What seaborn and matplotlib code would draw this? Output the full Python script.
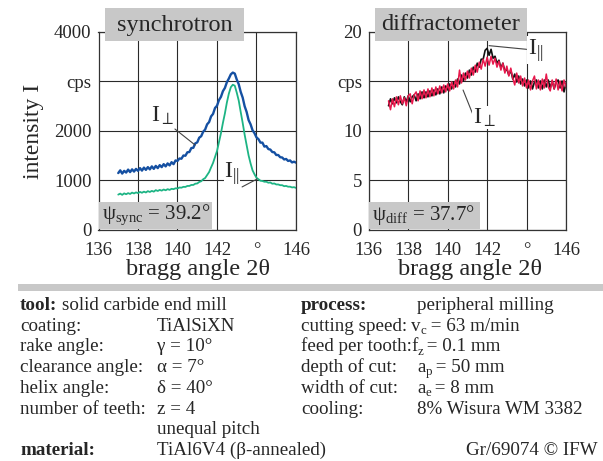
import numpy as np
import pandas as pd
import matplotlib
matplotlib.use("Agg")
import matplotlib.pyplot as plt
import seaborn as sns
from matplotlib.patches import Rectangle

# ---------------- data ----------------
x_ticks = [136, 138, 140, 142, 144, 146]
x_tick_labels = ["136", "138", "140", "142", "°", "146"]
sync_yticks = [0, 1000, 2000, 3000, 4000]
sync_ytick_labels = ["0", "1000", "2000", "cps", "4000"]
diff_yticks = [0, 5, 10, 15, 20]
diff_ytick_labels = ["0", "5", "10", "cps", "20"]

# synchrotron, I_perp (blue), 137.0 .. 146.0 step 0.1
sync_perp = [1140, 1195, 1130, 1185, 1150, 1210, 1160, 1215, 1170, 1225,
             1185, 1240, 1190, 1250, 1205, 1260, 1215, 1275, 1225, 1285,
             1240, 1300, 1260, 1320, 1275, 1335, 1295, 1360, 1320, 1395,
             1385, 1435, 1430, 1495, 1490, 1560, 1565, 1645, 1650, 1740,
             1760, 1855, 1885, 1975, 2020, 2125, 2170, 2285, 2335, 2455,
             2500, 2615, 2680, 2795, 2860, 2975, 3050, 3135, 3170, 3150,
             3030, 2935, 2780, 2665, 2490, 2375, 2210, 2125, 2005, 1945,
             1860, 1825, 1755, 1755, 1675, 1685, 1625, 1615, 1565, 1560,
             1505, 1505, 1460, 1455, 1415, 1425, 1385, 1395, 1355, 1370,
             1350]
# synchrotron, I_parallel (green)
sync_par = [705, 725, 700, 730, 712, 735, 718, 745, 728, 750,
            735, 760, 742, 765, 748, 775, 758, 780, 765, 795,
            778, 800, 785, 808, 792, 815, 800, 822, 815, 832,
            830, 848, 845, 862, 860, 880, 880, 900, 900, 925,
            930, 960, 975, 1015, 1040, 1100, 1160, 1255, 1345, 1465,
            1585, 1765, 1945, 2155, 2345, 2565, 2745, 2875, 2925, 2905,
            2765, 2605, 2375, 2155, 1915, 1705, 1495, 1335, 1195, 1115,
            1045, 1015, 985, 980, 965, 965, 945, 950, 925, 930,
            910, 910, 895, 895, 875, 880, 865, 865, 850, 855,
            840]
# diffractometer, I_parallel (black)
diff_par = [12.5, 13.2, 12.7, 13.3, 12.8, 13.4, 12.9, 12.6, 13.4, 12.9,
            13.5, 12.9, 13.4, 13.6, 13.0, 13.7, 13.2, 13.9, 13.3, 13.9,
            13.4, 14.0, 13.5, 14.1, 13.6, 14.2, 13.7, 14.4, 13.8, 14.5,
            14.1, 14.7, 14.2, 14.9, 14.4, 15.2, 14.7, 15.6, 15.0, 15.8,
            15.3, 16.1, 15.6, 16.4, 15.9, 16.8, 16.4, 17.2, 17.2, 18.1,
            18.3, 17.6, 18.2, 17.3, 17.5, 16.8, 17.1, 16.3, 16.8, 16.0,
            16.2, 15.6, 16.1, 15.2, 15.7, 14.9, 15.5, 14.7, 15.2, 14.5,
            15.1, 14.3, 15.0, 14.2, 14.9, 15.1, 14.3, 15.0, 14.2, 15.1,
            14.4, 15.1, 14.3, 15.0, 14.2, 14.9, 15.1, 14.3, 15.0, 13.9,
            14.8]
# diffractometer, I_perp (red)
diff_perp = [13.0, 12.1, 13.2, 12.4, 13.4, 12.6, 13.5, 12.7, 13.3, 12.5,
             13.5, 13.7, 12.7, 13.6, 13.9, 13.0, 14.0, 13.2, 14.1, 13.3,
             14.2, 13.4, 14.3, 13.5, 14.4, 13.7, 14.5, 13.8, 14.6, 13.9,
             14.7, 14.0, 14.9, 14.2, 15.1, 14.4, 16.1, 14.8, 15.8, 15.1,
             16.0, 15.3, 16.3, 15.6, 16.6, 15.9, 16.9, 16.2, 17.2, 16.5,
             17.4, 16.6, 17.5, 16.7, 17.3, 16.4, 17.0, 16.1, 16.8, 15.8,
             16.5, 15.5, 16.3, 15.3, 14.6, 15.8, 14.8, 15.5, 14.5, 15.3,
             14.3, 15.1, 14.1, 15.0, 15.5, 14.2, 15.1, 14.1, 15.2, 14.3,
             15.7, 14.4, 14.0, 15.1, 14.2, 15.2, 14.1, 15.0, 14.0, 15.1,
             14.4]

x_start, x_end = 137.0, 146.0

# ---------------- style ----------------
sns.set_style("white")
plt.rcParams["font.family"] = ["Liberation Serif", "DejaVu Serif"]
plt.rcParams["mathtext.fontset"] = "custom"
plt.rcParams["mathtext.rm"] = "Liberation Serif"
plt.rcParams["mathtext.it"] = "Liberation Serif:italic"
plt.rcParams["mathtext.bf"] = "Liberation Serif:bold"

W, H = 603, 461
fig = plt.figure(figsize=(W / 100, H / 100), dpi=100)
fig.patch.set_facecolor("white")
renderer = fig.canvas.get_renderer()


def fx(px):
    return px / W


def fy(py):
    return 1 - py / H


GRAY = "#c8c8c8"
axL = fig.add_axes([fx(98.5), fy(229.5), (296 - 98.5) / W, 198 / H])
axR = fig.add_axes([fx(368.8), fy(229.5), (566 - 368.8) / W, 198 / H])


def frame(vals, name):
    return pd.DataFrame({"angle": np.linspace(x_start, x_end, len(vals)),
                         "I": vals, "series": name})


dL1 = frame(sync_perp, "perp")
dL2 = frame(sync_par, "par")
dR1 = frame(diff_par, "par")
dR2 = frame(diff_perp, "perp")

sns.lineplot(data=dL1, x="angle", y="I", ax=axL, color="#1550a2", lw=1.7)
sns.lineplot(data=dL2, x="angle", y="I", ax=axL, color="#1db484", lw=1.3)
sns.lineplot(data=dR1, x="angle", y="I", ax=axR, color="#111111", lw=1.2)
sns.lineplot(data=dR2, x="angle", y="I", ax=axR, color="#e8184c", lw=1.1)

for ax, yt, ytl, ylim in [(axL, sync_yticks, sync_ytick_labels, 4000),
                          (axR, diff_yticks, diff_ytick_labels, 20)]:
    ax.set_xlim(136, 146)
    ax.set_ylim(0, ylim)
    ax.set_xticks(x_ticks)
    ax.set_xticklabels(x_tick_labels)
    ax.set_yticks(yt)
    ax.set_yticklabels(ytl)
    ax.set_xlabel("")
    ax.set_ylabel("")
    ax.grid(True, color="#2a2a2a", linewidth=0.8)
    ax.set_axisbelow(True)
    for s in ax.spines.values():
        s.set_color("#333333")
        s.set_linewidth(0.9)
    ax.tick_params(axis="x", length=0, pad=9, labelsize=13.5)
    ax.tick_params(axis="y", length=3.5, width=0.8, color="#333333",
                   direction="out", pad=1.5, labelsize=13.5)
    ax.set_facecolor("white")

# leader lines and labels
lbl = dict(fontsize=17, bbox=dict(facecolor="white", edgecolor="none", pad=0.3),
           zorder=6)
axL.plot([139.87, 140.89], [2030, 1707], color="#444444", lw=0.8, zorder=5)
axL.text(139.25, 2290, r"I$_{\perp}$", ha="center", va="center", **lbl)
axL.plot([143.27, 144.03], [860, 1020], color="#444444", lw=0.8, zorder=5)
axL.text(142.75, 1120, r"I$_{||}$", ha="center", va="center", **lbl)
axR.plot([142.1, 144.0], [18.57, 18.2], color="#444444", lw=0.8, zorder=5)
axR.text(144.45, 18.1, r"I$_{||}$", ha="center", va="center", **lbl)
axR.plot([140.78, 141.29], [14.09, 11.56], color="#444444", lw=0.8, zorder=5)
axR.text(141.85, 11.3, r"I$_{\perp}$", ha="center", va="center", **lbl)


# gray title boxes and psi boxes
def box(x0, y0, x1, y1):
    fig.patches.append(Rectangle((fx(x0), fy(y1)), (x1 - x0) / W, (y1 - y0) / H,
                                 transform=fig.transFigure, facecolor=GRAY,
                                 edgecolor="none", zorder=5))


box(105, 8, 244, 41)
box(375, 8, 527, 41)
box(99, 201.7, 211.7, 229)
box(369, 201.7, 480, 229)
box(18, 284, 603, 291)

fig.text(fx(174.5), fy(25), "synchrotron", ha="center", va="center",
         fontsize=17.5, zorder=7)
fig.text(fx(451), fy(25), "diffractometer", ha="center", va="center",
         fontsize=17.5, zorder=7)
fig.text(fx(102), fy(215), r"ψ$_{\mathrm{sync}}$ = 39.2°", ha="left",
         va="center", fontsize=15, zorder=7)
fig.text(fx(372), fy(215), r"ψ$_{\mathrm{diff}}$ = 37.7°", ha="left",
         va="center", fontsize=15, zorder=7)

fig.text(fx(33), fy(131), "intensity I", rotation=90, ha="center",
         va="center", fontsize=17)
fig.text(fx(198), fy(269), "bragg angle 2θ", ha="center", va="center",
         fontsize=17.5)
fig.text(fx(470), fy(269), "bragg angle 2θ", ha="center", va="center",
         fontsize=17.5)

# ---------------- bottom text block ----------------
FS = 13.7
rows_left = ["", "coating:", "rake angle:", "clearance angle:", "helix angle:",
             "number of teeth:", "", ""]
vals_left = ["", "TiAlSiXN", "γ = 10°", "α = 7°", "δ = 40°", "z = 4",
             "unequal pitch", "TiAl6V4 (β-annealed)"]
rows_right = ["", "cutting speed:", "feed per tooth:", "depth of cut:",
              "width of cut:", "cooling:"]
# (symbol, subscript, rest)
vals_right = [("peripheral milling", "", ""), ("v", "c", " = 63 m/min"),
              ("f", "z", " = 0.1 mm"), ("a", "p", " = 50 mm"),
              ("a", "e", " = 8 mm"), ("8% Wisura WM 3382", "", "")]
vals_right_x = [417, 411, 411, 417, 417, 417]

base0, step = 310, 20.7


def sub_text(x_px, yb_px, base, sub, rest):
    t1 = fig.text(fx(x_px), fy(yb_px), base, fontsize=FS, va="baseline")
    if not sub:
        return
    x1 = t1.get_window_extent(renderer).x1
    t2 = fig.text((x1 + 0.3) / W, fy(yb_px + 3.2), sub, fontsize=FS * 0.68,
                  va="baseline")
    x2 = t2.get_window_extent(renderer).x1
    fig.text((x2 - 1.0) / W, fy(yb_px), rest, fontsize=FS, va="baseline")


for i in range(8):
    yb = fy(base0 + step * i)
    if rows_left[i]:
        fig.text(fx(20), yb, rows_left[i], fontsize=FS, va="baseline")
    if vals_left[i]:
        fig.text(fx(157), yb, vals_left[i], fontsize=FS, va="baseline")
for i in range(6):
    yb_px = base0 + step * i
    if rows_right[i]:
        fig.text(fx(301), fy(yb_px), rows_right[i], fontsize=FS, va="baseline")
    sub_text(vals_right_x[i], yb_px, *vals_right[i])

fig.text(fx(20), fy(base0), "tool:", fontsize=FS, va="baseline", weight="bold")
fig.text(fx(62), fy(base0), "solid carbide end mill", fontsize=FS, va="baseline")
fig.text(fx(301), fy(base0), "process:", fontsize=FS, va="baseline", weight="bold")
fig.text(fx(20), fy(base0 + step * 7), "material:", fontsize=FS, va="baseline",
         weight="bold")
fig.text(fx(598), fy(base0 + step * 7), "Gr/69074 © IFW", fontsize=FS,
         va="baseline", ha="right")

fig.savefig("out.png", dpi=100, facecolor="white")
